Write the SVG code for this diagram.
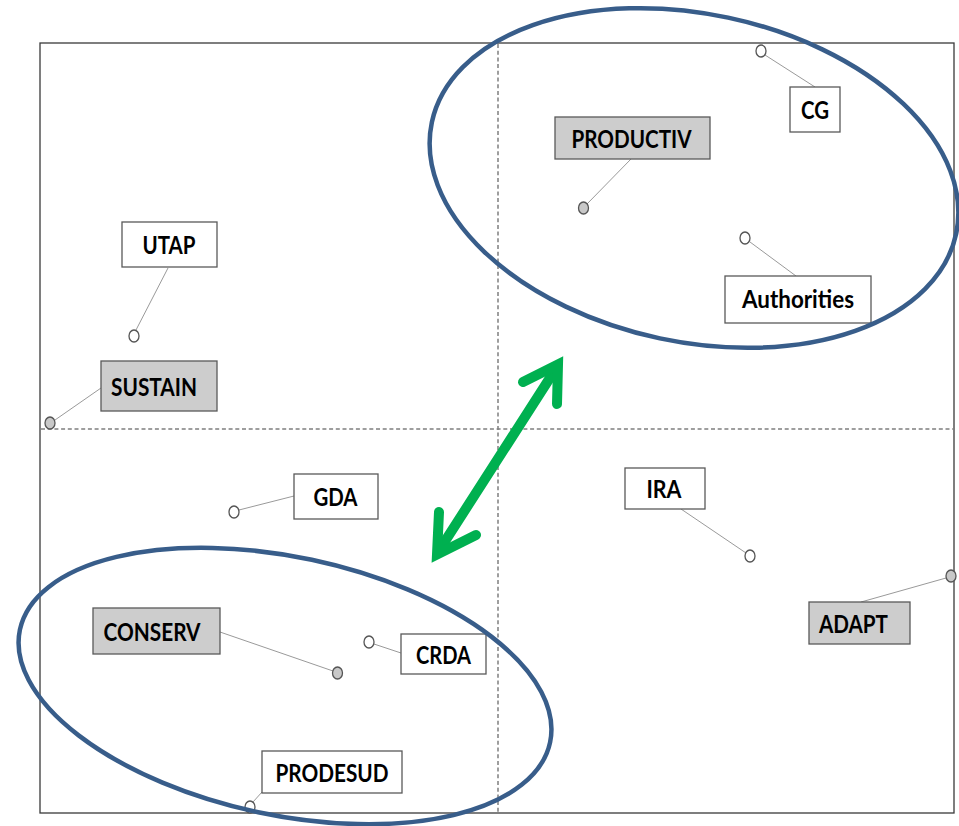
<svg xmlns="http://www.w3.org/2000/svg" width="959" height="826" viewBox="0 0 959 826">
  <style>
    .frame { fill: none; stroke: #3a3a3a; stroke-width: 1.3; }
    .grid { fill: none; stroke: #7f7f7f; stroke-width: 1.5; stroke-dasharray: 4 2.7; }
    .link { fill: none; stroke: #9a9a9a; stroke-width: 1; }
    .pt { stroke: #555; stroke-width: 1.3; fill: #ffffff; }
    .pt.key { fill: #c8c8c8; }
    .box { fill: #ffffff; stroke: #595959; stroke-width: 1.3; }
    .box.key { fill: #cdcdcd; }
    .lbl { font-family: Lato, "Open Sans", "DejaVu Sans", sans-serif; font-weight: bold; font-size: 25px; fill: #000; text-anchor: middle; }
    .group { fill: none; stroke: #385d8a; stroke-width: 4.5; }
    .arrow { fill: none; stroke: #00b050; stroke-width: 10; stroke-linecap: round; }
    .head { fill: none; stroke: #00b050; stroke-width: 10; stroke-linecap: round; stroke-linejoin: miter; stroke-miterlimit: 6; }
  </style>

  <!-- plot area and quadrant axes -->
  <rect class="frame" x="40" y="43" width="914" height="770"/>
  <line class="grid" x1="498" y1="44" x2="498" y2="812"/>
  <line class="grid" x1="41" y1="429" x2="953" y2="429"/>

  <!-- leader lines from points to labels -->
  <g id="connectors">
    <line class="link" x1="136" y1="330" x2="168" y2="268"/>
    <line class="link" x1="55" y1="420" x2="101" y2="388"/>
    <line class="link" x1="587" y1="204" x2="631" y2="159"/>
    <line class="link" x1="765" y1="55" x2="815" y2="87"/>
    <line class="link" x1="750" y1="242" x2="796" y2="276"/>
    <line class="link" x1="239" y1="510" x2="294" y2="496"/>
    <line class="link" x1="746" y1="553" x2="681" y2="509"/>
    <line class="link" x1="946" y1="578" x2="861" y2="602"/>
    <line class="link" x1="333" y1="671" x2="220" y2="632"/>
    <line class="link" x1="374" y1="644" x2="401" y2="653"/>
    <line class="link" x1="253" y1="802" x2="262" y2="792"/>
  </g>

  <g id="UTAP">
    <ellipse class="pt" cx="134" cy="336" rx="5" ry="6"/>
    <rect class="box" x="122" y="222" width="95" height="45"/>
    <text class="lbl" x="169" y="254" textLength="53" lengthAdjust="spacingAndGlyphs">UTAP</text>
  </g>
  <g id="SUSTAIN">
    <ellipse class="pt key" cx="50" cy="423" rx="5" ry="6"/>
    <rect class="box key" x="101" y="361" width="116" height="50"/>
    <text class="lbl" x="154" y="395.5" textLength="86" lengthAdjust="spacingAndGlyphs">SUSTAIN</text>
  </g>
  <g id="PRODUCTIV">
    <ellipse class="pt key" cx="583.5" cy="208" rx="5" ry="6"/>
    <rect class="box key" x="555" y="117" width="155" height="42"/>
    <text class="lbl" x="631.5" y="148" textLength="120" lengthAdjust="spacingAndGlyphs">PRODUCTIV</text>
  </g>
  <g id="CG">
    <ellipse class="pt" cx="761" cy="51" rx="5" ry="6"/>
    <rect class="box" x="790" y="87" width="50" height="45"/>
    <text class="lbl" x="815" y="119" textLength="28" lengthAdjust="spacingAndGlyphs">CG</text>
  </g>
  <g id="Authorities">
    <ellipse class="pt" cx="745" cy="238" rx="5" ry="6"/>
    <rect class="box" x="725" y="276" width="146" height="47"/>
    <text class="lbl" x="798" y="308" textLength="112" lengthAdjust="spacingAndGlyphs">Authorities</text>
  </g>
  <g id="GDA">
    <ellipse class="pt" cx="234" cy="512" rx="5" ry="6"/>
    <rect class="box" x="294" y="474" width="84" height="45"/>
    <text class="lbl" x="335.5" y="505.5" textLength="44" lengthAdjust="spacingAndGlyphs">GDA</text>
  </g>
  <g id="IRA">
    <ellipse class="pt" cx="750" cy="556" rx="5" ry="6"/>
    <rect class="box" x="625" y="468" width="80" height="41"/>
    <text class="lbl" x="664" y="498" textLength="35" lengthAdjust="spacingAndGlyphs">IRA</text>
  </g>
  <g id="ADAPT">
    <ellipse class="pt key" cx="951" cy="576" rx="5" ry="6"/>
    <rect class="box key" x="809" y="602" width="101" height="42"/>
    <text class="lbl" x="853.5" y="632.5" textLength="69" lengthAdjust="spacingAndGlyphs">ADAPT</text>
  </g>
  <g id="CONSERV">
    <ellipse class="pt key" cx="337.5" cy="673" rx="5" ry="6"/>
    <rect class="box key" x="93" y="608" width="127" height="46"/>
    <text class="lbl" x="152" y="640.5" textLength="97" lengthAdjust="spacingAndGlyphs">CONSERV</text>
  </g>
  <g id="CRDA">
    <ellipse class="pt" cx="369" cy="642" rx="5" ry="6"/>
    <rect class="box" x="401" y="634" width="85" height="40"/>
    <text class="lbl" x="443.5" y="663.5" textLength="55" lengthAdjust="spacingAndGlyphs">CRDA</text>
  </g>
  <g id="PRODESUD">
    <ellipse class="pt" cx="250" cy="807" rx="5" ry="6"/>
    <rect class="box" x="262" y="751" width="140" height="42"/>
    <text class="lbl" x="332" y="781.5" textLength="113" lengthAdjust="spacingAndGlyphs">PRODESUD</text>
  </g>

  <!-- cluster outlines -->
  <g id="clusters">
    <ellipse class="group" cx="694" cy="178" rx="268" ry="164" transform="rotate(12 694 178)"/>
    <ellipse class="group" cx="285" cy="686" rx="271" ry="129" transform="rotate(12 285 686)"/>
  </g>

  <!-- double-headed arrow between clusters -->
  <g id="link-arrow">
    <line class="arrow" x1="440" y1="549" x2="555" y2="370"/>
    <polyline class="head" points="523,382 558,364.5 557,404"/>
    <polyline class="head" points="439,512 437,554.5 476,535"/>
  </g>
</svg>
